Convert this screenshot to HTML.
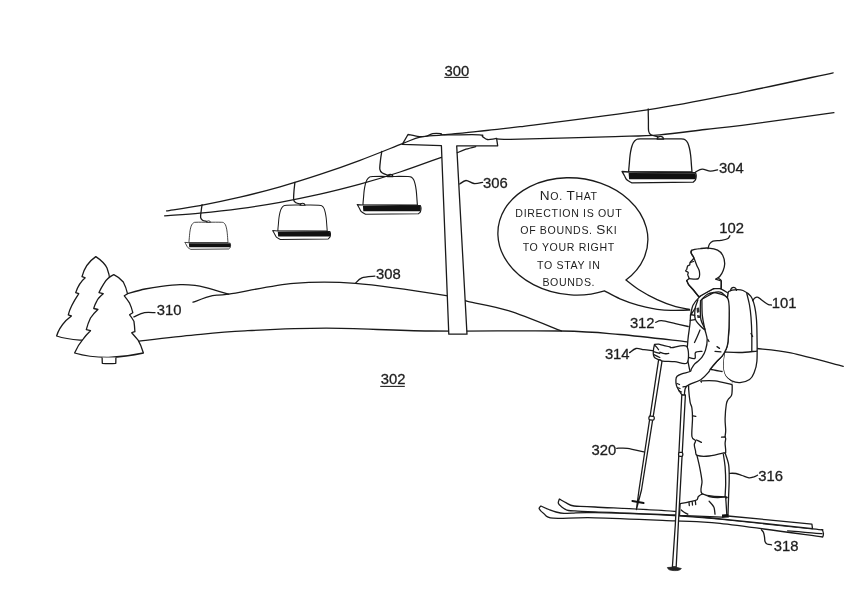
<!DOCTYPE html>
<html><head><meta charset="utf-8">
<style>
html,body{margin:0;padding:0;background:#fff;width:862px;height:591px;overflow:hidden}
svg{display:block;will-change:transform}
text{font-family:"Liberation Sans",sans-serif;fill:#1e1e1e;stroke:#1e1e1e;stroke-width:0.3}
.s{fill:none;stroke:#1a1a1a;stroke-width:1.3;stroke-linecap:round;stroke-linejoin:round}
.w{fill:#fff;stroke:#1a1a1a;stroke-width:1.3;stroke-linejoin:round}
</style></head><body>
<svg width="862" height="591" viewBox="0 0 862 591">

<text x="444.5" y="75.8" font-size="14.8">300</text>
<line x1="444.3" y1="77.4" x2="468.6" y2="77.4" stroke="#222" stroke-width="1.1"/>
<text x="380.8" y="384.2" font-size="14.8">302</text>
<line x1="380.2" y1="386.4" x2="404.8" y2="386.4" stroke="#222" stroke-width="1.1"/>
<path class="s" d="M496.6,138.9 C500.5,138.9 500.3,139.6 520.0,139.2 C539.7,138.8 591.7,137.3 615.0,136.6 C638.3,135.9 644.6,136.0 659.6,134.8 C674.6,133.6 691.3,131.1 705.0,129.5 C718.7,127.9 720.5,128.2 742.0,125.4 C763.5,122.6 818.6,114.7 833.9,112.6"/>
<path class="s" d="M127.5,293.7 C130.4,292.9 139.3,290.2 145.0,289.0 C150.7,287.8 155.6,287.0 161.4,286.3 C167.2,285.6 174.4,284.8 180.0,284.6 C185.6,284.4 190.7,284.8 195.0,285.3 C199.3,285.8 200.4,286.1 206.0,287.6 C211.6,289.1 224.9,293.0 228.7,294.1"/>
<path class="s" d="M193.0,302.2 C196.2,301.1 206.6,297.0 212.5,295.7 C218.4,294.4 215.2,296.2 228.7,294.1 C242.2,292.1 272.6,285.2 293.7,283.4 C314.8,281.6 330.0,281.3 355.4,283.4 C380.8,285.4 427.6,292.7 446.3,295.7 C465.0,298.7 457.3,298.8 467.6,301.3 C477.9,303.8 492.7,305.8 508.3,310.7 C524.0,315.6 552.6,327.6 561.5,331.0"/>
<path class="s" d="M138.1,341.3 C147.6,340.2 177.2,336.6 195.0,334.9 C212.8,333.1 223.1,331.9 245.0,330.8 C266.9,329.7 295.4,328.2 326.2,328.2 C357.0,328.2 390.8,330.5 430.0,331.0 C469.2,331.5 529.8,330.4 561.5,331.0 C593.2,331.6 599.1,332.7 620.0,334.5 C640.9,336.3 675.8,340.6 687.0,341.8"/>
<path class="s" d="M756.9,348.5 C762.5,349.2 776.4,349.8 790.8,352.8 C805.2,355.8 834.5,364.1 843.2,366.3"/>
<path class="w" d="M402.3,144.4 L408,134.5  C409.2,134.7 412.6,135.4 415.0,135.8 C417.4,136.2 420.4,136.7 422.4,136.7 C424.4,136.7 425.3,136.5 427.0,136.0 C428.7,135.5 430.5,134.1 432.8,133.7 C435.1,133.3 439.0,133.5 440.9,133.7 C442.8,133.9 438.0,134.6 444.4,134.8 C450.8,135.0 472.8,134.5 479.2,134.8 C485.6,135.1 481.2,135.8 482.6,136.6 C484.0,137.4 485.4,139.1 487.3,139.5 C489.2,139.9 492.6,139.1 494.2,138.9 C495.8,138.7 496.2,138.4 496.6,138.3 L497.7,145.8 L456.7,145.9 L467,334.2 L448.8,334.2 L441.4,145.6 Z"/>
<path class="s" d="M166.6,210.9 C172.2,210.0 187.8,207.8 200.0,205.6 C212.2,203.3 226.7,200.3 240.0,197.2 C253.3,194.1 266.7,190.5 280.0,186.8 C293.3,183.0 306.7,178.8 320.0,174.4 C333.3,170.0 346.2,165.5 360.0,160.3 C373.8,155.2 392.5,147.5 402.5,143.6 C412.5,139.8 413.2,138.6 420.0,137.1 C426.8,135.6 433.5,135.8 443.2,134.8 C452.9,133.8 465.2,132.7 478.0,131.3 C490.8,130.0 491.5,130.3 520.0,126.7 C548.5,123.1 612.0,115.3 649.0,109.6 C686.0,103.9 711.3,98.4 742.0,92.3 C772.7,86.2 818.0,76.0 833.2,72.8"/>
<path class="s" d="M457.4,152.7 C458.8,152.1 462.9,150.2 466.0,149.2 C469.1,148.2 474.1,147.0 475.7,146.6"/>
<g transform="translate(628.6,172.0) scale(1.000)"><path class="w" d="M0.0,0.0 C0.1,-1.0 0.2,-3.2 0.5,-6.0 C0.8,-8.8 1.1,-14.0 1.5,-17.0 C1.9,-20.0 2.3,-22.0 2.8,-24.0 C3.3,-26.0 3.8,-27.6 4.6,-29.0 C5.4,-30.4 6.3,-31.5 7.5,-32.2 C8.7,-32.9 7.4,-32.9 11.5,-33.1 C15.6,-33.3 25.2,-33.2 32.0,-33.2 C38.8,-33.2 48.4,-33.3 52.5,-33.1 C56.6,-32.9 55.4,-32.9 56.5,-32.2 C57.6,-31.5 58.5,-30.4 59.2,-29.0 C59.9,-27.6 60.3,-26.0 60.8,-24.0 C61.3,-22.0 61.6,-20.0 62.0,-17.0 C62.4,-14.0 62.7,-8.8 62.9,-6.0 C63.1,-3.2 63.3,-1.0 63.4,0.0 Z"/>
  <path class="w" d="M-6.6,-0.5 L0,0 L66.9,0.7  C67.0,1.2 67.6,2.5 67.6,3.7 C67.6,4.9 67.4,6.7 66.9,7.8 C66.4,8.9 65.0,9.8 64.6,10.2 L3,10.8  C2.2,10.3 -0.6,9.0 -1.8,7.8 C-3.0,6.6 -3.3,5.1 -4.1,3.7 C-4.9,2.3 -6.2,0.2 -6.6,-0.5 Z"/>
  <path d="M0,0.9 L66.6,1.2 Q68,4 67,7.2 L0.5,7.2 Z" fill="#111"/>
  <path class="w" d="M28.5,-33 Q29,-35.6 31.8,-35.6 Q34.5,-35.6 35,-33 Z"/></g>
<g transform="translate(362.9,205.0) scale(0.860)"><path class="w" d="M0.0,0.0 C0.1,-1.0 0.2,-3.2 0.5,-6.0 C0.8,-8.8 1.1,-14.0 1.5,-17.0 C1.9,-20.0 2.3,-22.0 2.8,-24.0 C3.3,-26.0 3.8,-27.6 4.6,-29.0 C5.4,-30.4 6.3,-31.5 7.5,-32.2 C8.7,-32.9 7.4,-32.9 11.5,-33.1 C15.6,-33.3 25.2,-33.2 32.0,-33.2 C38.8,-33.2 48.4,-33.3 52.5,-33.1 C56.6,-32.9 55.4,-32.9 56.5,-32.2 C57.6,-31.5 58.5,-30.4 59.2,-29.0 C59.9,-27.6 60.3,-26.0 60.8,-24.0 C61.3,-22.0 61.6,-20.0 62.0,-17.0 C62.4,-14.0 62.7,-8.8 62.9,-6.0 C63.1,-3.2 63.3,-1.0 63.4,0.0 Z"/>
  <path class="w" d="M-6.6,-0.5 L0,0 L66.9,0.7  C67.0,1.2 67.6,2.5 67.6,3.7 C67.6,4.9 67.4,6.7 66.9,7.8 C66.4,8.9 65.0,9.8 64.6,10.2 L3,10.8  C2.2,10.3 -0.6,9.0 -1.8,7.8 C-3.0,6.6 -3.3,5.1 -4.1,3.7 C-4.9,2.3 -6.2,0.2 -6.6,-0.5 Z"/>
  <path d="M0,0.9 L66.6,1.2 Q68,4 67,7.2 L0.5,7.2 Z" fill="#111"/>
  <path class="w" d="M28.5,-33 Q29,-35.6 31.8,-35.6 Q34.5,-35.6 35,-33 Z"/></g>
<g transform="translate(277.8,231.0) scale(0.780)"><path class="w" d="M0.0,0.0 C0.1,-1.0 0.2,-3.2 0.5,-6.0 C0.8,-8.8 1.1,-14.0 1.5,-17.0 C1.9,-20.0 2.3,-22.0 2.8,-24.0 C3.3,-26.0 3.8,-27.6 4.6,-29.0 C5.4,-30.4 6.3,-31.5 7.5,-32.2 C8.7,-32.9 7.4,-32.9 11.5,-33.1 C15.6,-33.3 25.2,-33.2 32.0,-33.2 C38.8,-33.2 48.4,-33.3 52.5,-33.1 C56.6,-32.9 55.4,-32.9 56.5,-32.2 C57.6,-31.5 58.5,-30.4 59.2,-29.0 C59.9,-27.6 60.3,-26.0 60.8,-24.0 C61.3,-22.0 61.6,-20.0 62.0,-17.0 C62.4,-14.0 62.7,-8.8 62.9,-6.0 C63.1,-3.2 63.3,-1.0 63.4,0.0 Z"/>
  <path class="w" d="M-6.6,-0.5 L0,0 L66.9,0.7  C67.0,1.2 67.6,2.5 67.6,3.7 C67.6,4.9 67.4,6.7 66.9,7.8 C66.4,8.9 65.0,9.8 64.6,10.2 L3,10.8  C2.2,10.3 -0.6,9.0 -1.8,7.8 C-3.0,6.6 -3.3,5.1 -4.1,3.7 C-4.9,2.3 -6.2,0.2 -6.6,-0.5 Z"/>
  <path d="M0,0.9 L66.6,1.2 Q68,4 67,7.2 L0.5,7.2 Z" fill="#111"/>
  <path class="w" d="M28.5,-33 Q29,-35.6 31.8,-35.6 Q34.5,-35.6 35,-33 Z"/></g>
<g transform="translate(188.9,242.7) scale(0.617)"><path class="w" d="M0.0,0.0 C0.1,-1.0 0.2,-3.2 0.5,-6.0 C0.8,-8.8 1.1,-14.0 1.5,-17.0 C1.9,-20.0 2.3,-22.0 2.8,-24.0 C3.3,-26.0 3.8,-27.6 4.6,-29.0 C5.4,-30.4 6.3,-31.5 7.5,-32.2 C8.7,-32.9 7.4,-32.9 11.5,-33.1 C15.6,-33.3 25.2,-33.2 32.0,-33.2 C38.8,-33.2 48.4,-33.3 52.5,-33.1 C56.6,-32.9 55.4,-32.9 56.5,-32.2 C57.6,-31.5 58.5,-30.4 59.2,-29.0 C59.9,-27.6 60.3,-26.0 60.8,-24.0 C61.3,-22.0 61.6,-20.0 62.0,-17.0 C62.4,-14.0 62.7,-8.8 62.9,-6.0 C63.1,-3.2 63.3,-1.0 63.4,0.0 Z"/>
  <path class="w" d="M-6.6,-0.5 L0,0 L66.9,0.7  C67.0,1.2 67.6,2.5 67.6,3.7 C67.6,4.9 67.4,6.7 66.9,7.8 C66.4,8.9 65.0,9.8 64.6,10.2 L3,10.8  C2.2,10.3 -0.6,9.0 -1.8,7.8 C-3.0,6.6 -3.3,5.1 -4.1,3.7 C-4.9,2.3 -6.2,0.2 -6.6,-0.5 Z"/>
  <path d="M0,0.9 L66.6,1.2 Q68,4 67,7.2 L0.5,7.2 Z" fill="#111"/>
  <path class="w" d="M28.5,-33 Q29,-35.6 31.8,-35.6 Q34.5,-35.6 35,-33 Z"/></g>
<path class="s" d="M164.6,215.8 C170.5,215.3 187.4,214.3 200.0,213.1 C212.6,211.9 226.7,210.4 240.0,208.6 C253.3,206.8 266.7,204.7 280.0,202.3 C293.3,199.9 306.7,197.2 320.0,194.2 C333.3,191.2 346.7,187.8 360.0,184.2 C373.3,180.5 386.4,176.5 400.0,172.0 C413.6,167.6 434.5,159.7 441.4,157.3"/>
<path class="s" d="M648.2,109.0 C648.2,110.8 648.3,116.3 648.4,120.0 C648.5,123.7 648.2,128.5 648.6,131.0 C649.0,133.5 649.5,133.9 651.0,134.8 C652.5,135.7 656.4,136.3 657.5,136.6"/>
<path class="s" d="M381.8,151.5 C381.6,152.9 380.8,157.1 380.5,160.0 C380.2,162.9 379.6,167.0 379.8,169.1 C380.1,171.2 380.7,171.8 382.0,172.8 C383.3,173.8 386.8,174.8 387.8,175.2"/>
<path class="s" d="M294.9,182.4 C294.8,183.8 294.2,188.1 294.0,191.0 C293.8,193.9 293.4,197.8 293.7,199.8 C294.0,201.8 294.9,202.1 296.0,202.8 C297.1,203.5 299.8,203.8 300.6,204.0"/>
<path class="s" d="M202.1,204.6 C201.9,205.7 201.4,208.9 201.2,211.0 C200.9,213.1 200.4,215.8 200.6,217.3 C200.8,218.8 201.5,219.5 202.5,220.2 C203.5,220.9 205.8,221.2 206.5,221.4"/>
<path class="w" d="M56.6,336 Q59,328 66,320.5 L71.4,315.9 Q69.5,315.3 68.3,314.8 Q70,307 78.8,293.7 Q77,293 75.7,292.6 Q79,283 85.2,277.8 Q83.5,277.2 82,276.7 Q85,264 95.8,256.6 Q104,262 107,268 Q109.5,274 110,282 L110,340 L79.9,340.2 Q66,339 56.6,336 Z"/>
<path class="w" d="M113.8,274.6 Q107,278 104.2,283.1 Q101,288 99,292.6 Q101,293 103.2,293.7 Q98,298 96.8,301.1 Q95,304 93.7,308.5 Q96,309 97.9,309.5 Q93,314 90.5,318 Q88,323 86.3,329.6 Q88.5,330 90.5,330.7 Q86,335 83.1,339.1 Q78,345 74.6,353 Q90,357.5 108.5,357.3 Q126,357 143.4,353 Q141,345 138.1,340.2 Q134.5,336 131.7,332.8 Q133,332.2 134.9,331.7 Q134.5,325 133.9,321.2 Q131.5,317 129.6,314.8 Q131,313.7 132.8,312.7 Q131.5,307 129.6,303.2 Q127,299 124.3,295.8 Q126,294.7 127.5,293.7 Q126,287 123.3,282 Q119,277 113.8,274.6 Z"/>
<path class="w" d="M102.1,357.6 L102.3,363.3 Q109,364 115.8,363.3 L115.9,357.4"/>
<path class="w" d="M689.6,309.4  C687.3,308.9 681.1,308.3 675.7,306.7 C670.3,305.1 663.3,302.6 657.1,299.7 C650.9,296.8 643.8,292.8 638.6,289.5 C633.4,286.2 628.0,281.6 625.9,280.0 A75.16,58.44 6.04 1 0 604.5,290.8  C607.1,292.1 614.3,296.4 620.0,298.8 C625.7,301.2 631.6,303.5 638.6,305.3 C645.6,307.1 653.3,309.1 661.8,309.9 C670.3,310.7 685.0,310.1 689.6,310.2 Z"/>
<text x="568.8" y="199.7" text-anchor="middle" font-size="10.6" letter-spacing="0.65" style="stroke:none"><tspan font-size="13.6">N</tspan>O. <tspan font-size="13.6">T</tspan>HAT</text>
<text x="568.8" y="217.3" text-anchor="middle" font-size="10.6" letter-spacing="0.65" style="stroke:none">DIRECTION IS OUT</text>
<text x="568.8" y="233.8" text-anchor="middle" font-size="10.6" letter-spacing="0.65" style="stroke:none">OF BOUNDS. <tspan font-size="13.6">S</tspan>KI</text>
<text x="568.8" y="251.4" text-anchor="middle" font-size="10.6" letter-spacing="0.65" style="stroke:none">TO YOUR RIGHT</text>
<text x="568.8" y="269" text-anchor="middle" font-size="10.6" letter-spacing="0.65" style="stroke:none">TO STAY IN</text>
<text x="568.8" y="285.5" text-anchor="middle" font-size="10.6" letter-spacing="0.65" style="stroke:none">BOUNDS.</text>
<path class="w" d="M540.9,506.0 C542.2,506.6 546.4,508.5 548.9,509.5 C551.4,510.5 553.5,511.4 556.0,512.0 C558.5,512.6 561.3,513.2 564.0,513.4 C566.7,513.6 566.8,513.2 572.0,513.1 C577.2,513.0 577.9,512.3 595.0,512.7 C612.1,513.1 653.1,514.4 674.4,515.5 C695.7,516.6 699.6,517.2 722.6,519.4 C745.6,521.6 795.9,527.2 812.5,528.9 C829.1,530.6 820.4,529.5 822.0,529.6 Q824.5,533 822.7,537  C805.6,534.7 744.7,526.1 720.0,523.4 C695.3,520.7 695.2,521.8 674.4,520.9 C653.6,520.0 615.2,518.2 595.0,517.8 C574.8,517.3 561.6,518.9 553.1,518.2 C544.6,517.5 546.3,515.3 544.0,513.7 C541.7,512.1 539.7,510.1 539.2,508.8 C538.7,507.5 540.6,506.5 540.9,506.0 Z"/>
<path class="w" d="M559.4,499.0 C560.5,499.6 563.9,501.7 566.3,502.9 C568.7,504.1 569.2,505.3 574.0,506.0 C578.8,506.7 578.3,506.1 595.0,507.0 C611.7,507.9 652.3,509.8 674.4,511.3 C696.5,512.8 704.8,513.9 727.7,516.0 C750.6,518.1 797.9,522.8 811.9,524.2 L812.5,528.7  C797.5,527.1 745.6,521.4 722.6,519.1 C699.6,516.8 695.7,516.1 674.4,514.9 C653.1,513.7 611.7,512.6 595.0,511.9 C578.3,511.2 578.7,511.2 574.0,510.9 C569.3,510.6 569.1,510.9 567.0,510.2 C564.9,509.5 562.9,507.9 561.4,506.7 C559.9,505.5 558.6,504.5 558.3,503.2 C558.0,501.9 559.2,499.7 559.4,499.0 Z"/>
<path class="s" d="M787.6,530.8 C790.5,531.0 799.3,531.8 805.0,532.3 C810.7,532.8 819.2,533.4 822.0,533.6"/>
<path class="w" d="M658.6,359.9 L639,490 L636.4,509.5 L641.5,490 L662.2,359.9 Z"/>
<rect x="648.9" y="416.2" width="5.4" height="3.8" rx="1.5" class="w" transform="rotate(9 651.6 418)"/>
<path d="M632.4,501 L643.6,503.1" stroke="#111" stroke-width="2" stroke-linecap="round"/>
<path class="w" d="M728.3,292.0 C729.6,290.3 732.5,290.1 735.0,289.8 C737.5,289.6 740.4,289.4 743.0,290.5 C745.6,291.6 748.8,293.7 750.7,296.2 C752.6,298.7 753.4,301.4 754.4,305.4 C755.4,309.4 756.1,314.9 756.5,320.0 C756.9,325.1 756.9,329.1 757.0,336.0 C757.1,342.9 757.4,355.0 756.9,361.2 C756.4,367.4 755.2,369.9 754.0,373.0 C752.8,376.1 751.9,377.9 749.6,379.5 C747.3,381.1 743.0,382.4 740.0,382.6 C737.0,382.8 734.0,382.0 731.6,380.9 C729.2,379.8 727.1,378.2 725.7,376.2 C724.3,374.2 723.7,371.6 723.3,369.0 C722.9,366.4 723.1,363.6 723.3,360.8 C723.5,358.1 724.1,355.3 724.5,352.5 C724.9,349.7 725.3,349.6 725.7,344.2 C726.1,338.8 726.7,327.4 727.0,320.0 C727.3,312.6 727.2,304.7 727.4,300.0 C727.6,295.3 727.0,293.7 728.3,292.0 Z"/>
<path class="s" d="M746.8,293.5 C747.2,295.4 748.8,301.1 749.5,305.0 C750.2,308.9 750.6,312.2 751.0,317.2 C751.4,322.2 751.7,329.4 751.8,335.0 C751.9,340.6 751.8,348.4 751.8,351.1"/>
<path class="s" d="M724.5,352.0 C727.1,352.1 734.6,352.6 740.0,352.5 C745.4,352.4 754.1,351.3 756.9,351.1"/>
<path class="s" d="M730.5,290.6 Q731,287.3 733.5,287.3 Q736,287.3 736.5,290.3"/>
<path class="s" d="M751,333.5 L752.6,336.5"/>
<path class="w" d="M696.6,454.0 C697.1,456.1 698.7,462.3 699.6,466.8 C700.5,471.3 701.5,476.6 702.0,481.1 C702.5,485.7 698.6,491.5 702.6,494.1 C706.6,496.8 722.0,496.6 725.7,497.0 C729.5,497.4 725.1,498.8 725.1,496.5 C725.1,494.2 725.7,488.3 725.7,483.4 C725.7,478.4 725.5,471.7 725.1,466.8 C724.7,461.9 723.6,456.1 723.3,454.0"/>
<path class="s" d="M724.8,452.0 C725.4,454.1 727.9,460.1 728.6,464.5 C729.3,468.9 729.2,473.4 729.2,478.7 C729.2,484.0 728.8,490.6 728.6,496.5 C728.4,502.4 728.1,511.3 728.0,514.2"/>
<path class="s" d="M725.1,496.5 C725.1,497.9 725.3,502.1 725.4,505.0 C725.5,507.9 725.7,512.7 725.7,514.2"/>
<path class="w" d="M725.7,497.0 C724.3,497.1 720.2,497.7 717.4,497.6 C714.6,497.5 711.6,497.1 709.1,496.5 C706.6,495.9 704.4,494.1 702.6,494.1 C700.8,494.1 699.4,495.5 698.4,496.5 C697.4,497.5 698.2,499.1 696.6,500.0 C695.0,500.9 691.8,501.2 689.0,501.8 C686.2,502.4 681.6,503.3 680.1,503.6 L679.5,515.4 L722.1,517.2 L726.9,516 L725.7,497 Z"/>
<path class="s" d="M709.1,501.2 C709.9,502.2 712.8,504.9 713.8,507.1 C714.8,509.3 714.8,513.0 715.0,514.2"/>
<path class="s" d="M681.3,510.0 C681.8,510.4 683.4,511.8 684.5,512.5 C685.6,513.2 687.2,513.9 687.8,514.2"/>
<path class="s" d="M689,502.5 L689.3,505.5 M692.2,502 L692.5,505 M695.4,501.5 L695.7,504.5"/>
<path d="M722,514.5 L728.5,514 L728.8,517.5 L722,517.8 Z" fill="#111"/>
<path class="w" d="M688.7,384.0 C688.7,385.0 688.5,386.8 688.7,389.8 C688.9,392.8 689.6,399.1 690.1,402.1 C690.6,405.1 691.5,405.2 691.9,408.0 C692.3,410.8 692.5,413.9 692.5,418.7 C692.5,423.4 691.4,432.9 691.9,436.5 C692.4,440.1 695.1,439.2 695.5,440.6 C695.9,442.0 694.3,443.0 694.3,444.7 C694.3,446.4 695.0,448.9 695.5,450.7 C696.0,452.5 694.9,454.5 697.2,455.4 C699.5,456.3 704.7,456.4 709.1,456.0 C713.5,455.6 720.8,453.7 723.6,453.0 C726.4,452.3 725.5,453.5 725.7,451.9 C726.0,450.3 725.1,445.8 725.1,443.6 C725.1,441.4 725.7,440.0 725.7,438.8 C725.7,437.6 725.1,437.9 725.1,436.5 C725.1,435.1 725.7,433.5 725.7,430.5 C725.7,427.5 725.0,423.0 725.1,418.7 C725.2,414.4 725.8,407.7 726.3,404.5 C726.8,401.3 727.1,401.3 728.0,399.7 C728.9,398.1 730.9,397.4 731.6,395.1 C732.3,392.8 732.2,387.9 732.2,385.7 C732.2,383.5 731.7,382.7 731.6,382.1"/>
<path class="s" d="M696.5,440.0 C696.9,440.2 698.2,440.8 699.0,441.2 C699.8,441.6 701.0,442.2 701.4,442.4"/>
<path class="s" d="M693,415.8 L695.8,416.3 M725.2,437 L721.5,437.2"/>
<path fill="#fff" d="M687.9,340.0 C687.4,345.8 686.8,355.2 686.8,358.7 C686.8,362.2 687.3,359.1 687.8,360.8 C688.2,362.5 689.1,367.3 689.5,369.1 C689.9,370.9 690.4,368.9 690.1,371.5 C689.9,374.1 686.1,383.2 688.0,385.0 C689.9,386.8 699.1,382.8 701.4,382.1 C703.7,381.4 699.7,381.1 702.0,380.9 C704.3,380.7 710.1,380.3 715.0,380.9 C719.9,381.5 728.8,384.3 731.6,384.5 C734.4,384.7 732.6,383.5 731.6,382.1 C730.6,380.7 727.1,378.4 725.7,376.2 C724.3,374.0 723.7,371.6 723.3,369.0 C722.9,366.4 723.1,363.6 723.3,360.8 C723.5,358.1 724.1,355.3 724.5,352.5 C724.9,349.7 725.3,349.6 725.7,344.2 C726.1,338.8 726.7,327.4 727.0,320.0 C727.3,312.6 729.6,304.8 727.4,300.0 C725.2,295.2 718.2,291.1 714.0,291.0 C709.8,290.9 705.9,295.2 702.0,299.3 C698.1,303.4 692.5,311.3 690.5,315.4 C688.5,319.5 690.4,319.7 690.0,323.8 C689.6,327.9 688.4,334.2 687.9,340.0 Z"/>
<path class="s" d="M701.4,382.1 C701.5,381.9 699.7,381.1 702.0,380.9 C704.3,380.7 710.1,380.3 715.0,380.9 C719.9,381.5 728.8,383.9 731.6,384.5"/>
<path class="s" d="M697.2,362.0 C698.0,362.7 699.9,364.9 702.0,366.1 C704.1,367.3 706.4,368.2 709.7,369.1 C713.1,370.0 720.0,371.1 722.1,371.5"/>
<path class="s" d="M690.5,315.4 C690.4,316.8 690.4,319.7 690.0,323.8 C689.6,327.9 688.4,334.2 687.9,340.0 C687.4,345.8 686.8,355.2 686.8,358.7 C686.8,362.2 687.3,359.1 687.8,360.8 C688.2,362.5 689.1,367.3 689.5,369.1 C689.9,370.9 690.0,371.1 690.1,371.5"/>
<path class="s" d="M727.4,297.8 C727.7,300.8 729.1,308.2 729.2,315.5 C729.3,322.8 728.6,335.9 728.0,341.6 C727.4,347.4 726.7,347.6 725.7,350.0 C724.7,352.4 723.5,354.3 722.1,356.1 C720.7,357.9 719.4,358.6 717.4,360.8 C715.4,363.0 711.5,367.7 710.3,369.1"/>
<path class="w" d="M701.9,299.3 C702.0,302.0 701.8,310.4 702.3,315.4 C702.8,320.3 704.0,325.0 704.8,329.0 C705.6,333.0 707.1,336.0 707.2,339.5 C707.3,343.0 706.4,347.2 705.5,350.1 C704.6,353.1 703.3,355.3 702.0,357.2 C700.7,359.1 699.1,360.2 697.8,361.4 C696.5,362.6 695.4,363.0 694.3,364.3 C693.2,365.6 692.0,367.9 691.3,369.1 C690.6,370.3 691.7,370.7 690.1,371.5 C688.5,372.3 684.0,373.0 681.8,373.8 C679.6,374.6 678.1,375.2 677.1,376.2 C676.1,377.2 676.0,378.1 675.9,379.7 C675.8,381.3 676.0,383.9 676.5,385.7 C677.0,387.5 678.0,388.9 678.9,390.4 C679.8,391.9 680.9,393.8 681.8,394.6 C682.7,395.4 683.4,396.5 684.2,395.1 C685.0,393.7 683.8,388.9 686.6,386.3 C689.4,383.7 697.0,382.2 700.8,379.7 C704.5,377.2 707.5,373.3 709.1,371.5 C710.7,369.7 708.9,370.9 710.3,369.1 C711.7,367.3 715.4,363.0 717.4,360.8 C719.4,358.6 720.7,357.9 722.1,356.1 C723.5,354.3 724.7,352.4 725.7,350.0 C726.7,347.6 727.4,347.4 728.0,341.6 C728.6,335.9 729.3,322.8 729.2,315.5 C729.1,308.2 729.9,301.6 727.4,297.8 C724.9,294.0 716.2,293.4 714.0,292.5 Z"/>
<path class="s" d="M677,383.5 L679.5,384.5 M677.5,387.5 L680,388.5 M679,390.8 L681.5,392"/>
<path class="s" d="M683.0,386.9 L686.6,386.3"/>
<path class="s" d="M700.0,330.0 C699.6,331.0 698.4,333.9 697.5,336.0 C696.6,338.1 695.0,341.4 694.5,342.5"/>
<path class="s" d="M687.8,357.2 C689.0,357.4 693.6,359.2 694.9,358.4 C696.2,357.6 694.3,353.7 695.5,352.5 C696.7,351.3 700.9,351.5 702.0,351.3"/>
<path class="s" d="M707.9,339.5 L709,341.5 M715,351.3 L720.9,351.9 M717,346.6 L719.5,348.4"/>
<path class="w" d="M690.5,315.4 C690.9,313.7 691.6,308.2 693.0,305.2 C694.4,302.2 696.8,299.7 698.9,297.6 C701.0,295.5 703.2,294.0 705.7,292.5 C708.2,291.0 711.3,289.3 713.6,288.6 C715.9,287.9 717.3,287.6 719.7,288.3 C722.1,289.0 726.6,292.2 728.0,293.0 L727.4,297.8 C726.3,296.9 723.2,293.2 721.0,292.3 C718.8,291.4 716.4,292.2 714.1,292.5 C711.8,292.8 709.4,293.1 707.4,294.2 C705.4,295.3 703.5,297.7 701.9,299.3 C700.3,300.9 698.6,303.2 698.0,304.0 Z"/>
<path class="w" d="M698.1,299.3 C697.7,300.6 696.1,304.2 695.5,306.9 C694.9,309.6 694.6,313.0 694.7,315.4 C694.9,317.8 694.7,318.9 696.4,321.3 C698.1,323.7 704.0,329.9 704.8,329.7 C705.6,329.5 701.8,323.3 701.0,320.0 C700.2,316.7 700.4,313.3 700.3,310.0 C700.2,306.7 700.5,301.8 700.6,300.1"/>
<path d="M696.5,308 L699,307.5 L699.5,312 L697,313 Z M697,315 L700,315.5 L700.5,318 L697.5,318 Z" fill="#333"/>
<path class="s" d="M690.5,314.5 L694.7,315.4 M690.3,320.4 L695,319.6"/>
<path class="w" d="M654.5,344.5 C655.2,344.4 657.1,344.1 658.6,344.2 C660.1,344.3 661.5,345.0 663.4,345.4 C665.3,345.8 668.5,346.4 669.9,346.8 C671.3,347.2 668.9,347.8 671.7,347.7 C674.5,347.6 683.9,343.8 686.5,346.3 C689.1,348.8 689.1,360.2 687.1,362.8 C685.1,365.4 678.7,362.0 674.6,361.7 C670.5,361.4 665.2,361.4 662.8,361.1 C660.4,360.8 661.2,360.2 660.4,359.9 C659.6,359.6 659.0,359.7 658.0,359.3 C657.0,358.9 655.3,358.4 654.5,357.5 C653.7,356.6 653.4,355.5 653.3,354.0 C653.1,352.5 653.5,349.5 653.6,348.6 Z"/>
<path class="s" d="M655,345.5 Q657,347 658.6,349.8 M653.6,351.6 Q657,352.5 659.8,353.4 M653.9,354.6 Q657,356 659.8,357.5"/>
<path class="s" d="M659.8,352.2 C660.6,352.4 663.0,353.5 664.5,353.7 C666.0,353.9 668.0,353.4 668.7,353.4"/>
<path class="w" d="M689.2,278.6 C689.0,278.2 688.5,276.7 688.2,276.0 C688.0,275.3 687.7,275.1 687.7,274.5 C687.7,273.9 688.5,273.1 688.2,272.5 C687.9,271.9 686.0,271.5 685.7,271.0 C685.5,270.5 686.4,270.2 686.7,269.4 C687.0,268.5 687.2,266.6 687.7,265.9 C688.2,265.1 689.3,265.5 689.7,264.9 C690.1,264.3 689.5,263.5 690.2,262.3 C690.9,261.1 693.6,259.3 693.8,257.8 C694.0,256.3 691.5,254.5 691.2,253.2 C690.9,251.9 690.3,251.0 691.8,250.2 C693.3,249.4 697.6,248.9 700.4,248.6 C703.2,248.2 705.6,247.8 708.5,248.1 C711.4,248.4 715.2,249.0 717.6,250.2 C720.0,251.4 721.5,253.0 722.7,255.2 C723.9,257.4 724.6,260.8 724.7,263.4 C724.8,265.9 724.0,268.3 723.2,270.5 C722.4,272.7 721.0,275.1 719.7,276.5 C718.4,277.9 716.3,278.7 715.6,279.1 L715.6,279.1 L721.2,281 L721.2,288.5 L713.6,288.6 L698.9,296.8 L693,289.5 L688.5,284.5 L686.7,280.6 L689.2,278.6 Z"/>
<path class="s" d="M691.8,250.2 C691.7,250.7 690.9,251.9 691.2,253.2 C691.5,254.5 692.9,255.8 693.8,257.8 C694.7,259.8 695.9,263.1 696.8,265.4 C697.7,267.7 699.1,269.3 699.4,271.5 C699.7,273.7 700.1,277.4 698.4,278.6 C696.7,279.8 690.7,278.6 689.2,278.6"/>
<path class="s" d="M718.7,278.6 C719.1,278.9 720.8,279.0 721.2,280.6 C721.6,282.2 721.2,286.8 721.2,288.0"/>
<path class="s" d="M686.7,280.6 C687.0,281.2 687.5,283.0 688.5,284.5 C689.5,286.0 691.3,287.4 693.0,289.5 C694.7,291.6 697.9,295.6 698.9,296.8"/>
<path class="s" d="M690.5,262.5 L693.5,261.5"/>
<path class="w" d="M681.8,395 L675.3,525 L672.4,566.8 L676.2,566.8 L678.3,525 L685.4,395 Z"/>
<rect x="678.6" y="452.4" width="4.2" height="4" rx="1.3" class="w"/>
<path d="M667.4,567.5 Q674,566.2 681.3,568.5 Q680,570.8 674.2,570.6 Q668,570.5 667.4,567.5 Z" fill="#222" stroke="#222" stroke-width="0.8"/>
<text x="483" y="187.8" font-size="14.8">306</text>
<path class="s" d="M459.7,184.0 C460.8,183.4 463.6,180.6 466.0,180.5 C468.4,180.4 471.2,183.2 474.0,183.5 C476.8,183.8 481.2,182.6 482.6,182.4"/>
<text x="719.1" y="173.3" font-size="14.8">304</text>
<path class="s" d="M695.7,171.9 C696.8,171.4 699.8,169.2 702.2,169.1 C704.6,169.0 707.7,171.0 710.3,171.1 C712.9,171.2 716.4,170.1 717.6,169.9"/>
<text x="376" y="279.2" font-size="14.8">308</text>
<path class="s" d="M355.4,283.4 C356.5,282.5 358.6,279.1 361.9,277.9 C365.1,276.7 372.7,276.5 374.9,276.2"/>
<text x="156.8" y="314.8" font-size="14.8">310</text>
<path class="s" d="M133.9,316.9 C135.7,316.2 140.9,313.4 144.4,312.7 C147.9,312.0 153.2,312.7 155.0,312.7"/>
<text x="629.9" y="327.6" font-size="14.8">312</text>
<path class="s" d="M655.7,322.4 C656.7,322.1 658.2,320.5 661.5,320.7 C664.8,320.9 670.9,322.6 675.4,323.6 C679.9,324.6 686.1,326.0 688.2,326.5"/>
<text x="604.9" y="358.9" font-size="14.8">314</text>
<path class="s" d="M629.6,352.6 C630.7,351.9 633.6,349.0 636.0,348.5 C638.4,348.0 641.2,349.3 644.1,349.7 C647.0,350.1 651.9,350.6 653.4,350.8"/>
<text x="591.5" y="455.4" font-size="14.8">320</text>
<path class="s" d="M616.7,448.3 C618.5,448.3 622.8,447.7 627.3,448.3 C631.8,448.9 641.1,451.3 643.9,451.9"/>
<text x="758.3" y="480.8" font-size="14.8">316</text>
<path class="s" d="M729.5,473.3 C730.6,473.3 733.9,473.1 736.0,473.5 C738.1,473.9 739.8,474.8 742.0,475.5 C744.2,476.2 747.0,477.6 749.0,477.8 C751.0,478.0 752.6,477.2 754.0,476.8 C755.4,476.4 756.9,475.5 757.5,475.2"/>
<text x="773.7" y="551.3" font-size="14.8">318</text>
<path class="s" d="M761.5,529.8 C761.8,530.2 763.0,531.3 763.5,532.5 C764.0,533.7 764.2,535.5 764.5,537.0 C764.8,538.5 764.6,540.3 765.0,541.5 C765.4,542.7 765.9,543.5 767.0,544.0 C768.1,544.5 770.8,544.7 771.5,544.8"/>
<text x="771.8" y="307.9" font-size="14.8">101</text>
<path class="s" d="M752.7,300.5 C753.1,300.1 754.0,298.6 754.8,298.0 C755.6,297.4 756.5,296.9 757.5,297.2 C758.5,297.4 759.8,298.6 761.0,299.5 C762.2,300.4 763.8,301.6 765.0,302.5 C766.2,303.4 767.5,304.2 768.5,304.6 C769.5,305.0 770.8,304.9 771.3,305.0"/>
<text x="719.2" y="233.3" font-size="14.8">102</text>
<path class="s" d="M729.9,235.7 C729.5,236.2 729.0,238.0 727.5,238.8 C726.0,239.6 723.3,240.0 720.9,240.4 C718.5,240.8 714.9,240.6 713.0,241.2 C711.1,241.8 710.3,242.8 709.5,244.0 C708.7,245.2 708.2,247.8 708.0,248.6"/>
</svg>
</body></html>
